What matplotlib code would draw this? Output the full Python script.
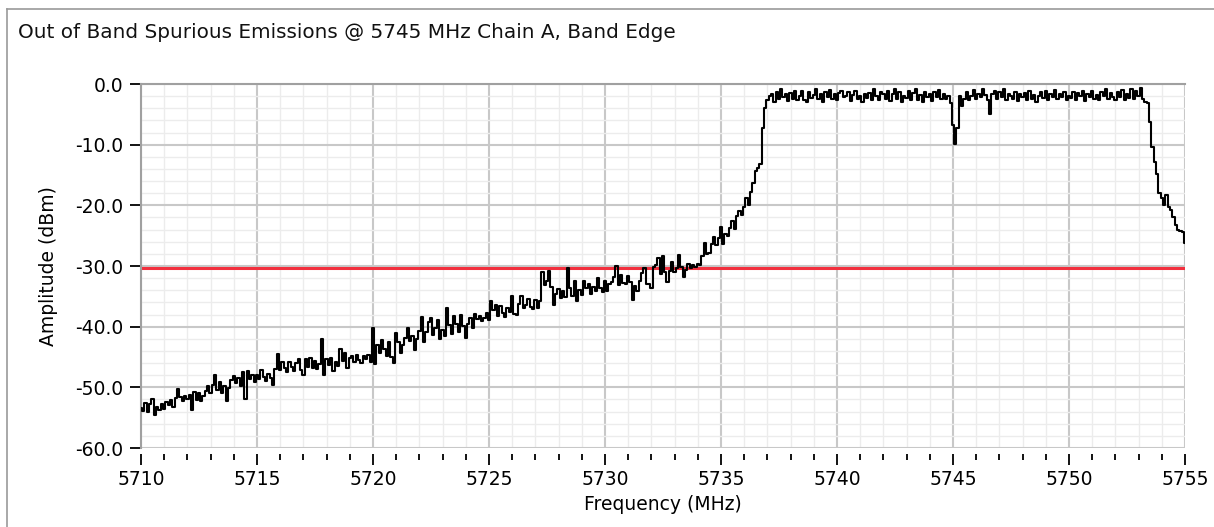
import numpy as np
import matplotlib.pyplot as plt
from matplotlib.ticker import MultipleLocator, FormatStrFormatter
from matplotlib.lines import Line2D

plt.rcParams['font.family'] = ['DejaVu Sans']

title = "Out of Band Spurious Emissions @ 5745 MHz Chain A, Band Edge"

# sweep: 5710 .. 5755 MHz, one reading every 0.1 MHz
f_start, f_stop, f_step = 5710.0, 5755.0, 0.1
limit_dbm = -30.3

# measured amplitude (dBm), one row per MHz
amp = [
    -53.4, -53.9, -52.6, -54.1, -52.8, -51.9, -54.6, -53.2, -53.8, -52.7,  # 5710
    -53.5, -52.4, -52.9, -52.1, -53.3, -51.8, -50.2, -51.6, -52.3, -51.4,  # 5711
    -52.0, -51.3, -53.8, -50.7, -52.1, -51.0, -52.3, -51.5, -50.6, -49.7,  # 5712
    -50.9, -49.6, -47.9, -50.4, -49.1, -51.0, -49.8, -52.2, -50.1, -48.8,  # 5713
    -48.1, -49.3, -48.5, -49.7, -47.4, -52.0, -47.3, -48.6, -47.9, -49.2,  # 5714
    -48.0, -48.7, -47.2, -48.3, -49.0, -47.8, -48.5, -49.6, -46.9, -44.5,  # 5715
    -47.2, -45.9, -46.8, -47.4, -45.8, -46.6, -47.3, -46.0, -45.4, -47.1,  # 5716
    -48.0, -45.3, -46.6, -45.2, -46.8, -45.6, -47.0, -46.2, -42.1, -47.9,  # 5717
    -45.3, -46.4, -45.2, -47.3, -45.8, -46.5, -43.7, -45.6, -44.3, -46.8,  # 5718
    -45.1, -44.8, -45.9, -44.7, -45.5, -46.0, -44.9, -45.3, -44.6, -45.8,  # 5719
    -40.2, -46.2, -43.1, -44.4, -42.2, -43.7, -44.8, -42.6, -45.0, -46.0,  # 5720
    -41.1, -42.6, -44.3, -43.0, -41.8, -40.3, -42.4, -41.5, -43.8, -42.1,  # 5721
    -40.7, -38.4, -42.5, -40.9, -39.2, -38.6, -41.3, -40.2, -38.9, -42.0,  # 5722
    -40.5, -41.6, -37.0, -39.8, -41.2, -38.3, -39.5, -40.8, -38.1, -39.9,  # 5723
    -41.8, -39.6, -38.5, -40.2, -37.9, -38.8, -38.2, -39.1, -38.6, -37.7,  # 5724
    -38.9, -35.7, -37.2, -36.4, -38.3, -36.6, -37.8, -38.4, -36.9, -37.5,  # 5725
    -35.0, -37.9, -38.1, -36.2, -34.9, -37.0, -36.4, -35.5, -36.8, -37.1,  # 5726
    -35.6, -36.9, -35.8, -31.0, -33.2, -32.4, -30.8, -33.5, -36.5, -34.6,  # 5727
    -33.8, -35.3, -34.1, -35.1, -30.3, -33.6, -34.9, -32.4, -35.8, -33.9,  # 5728
    -34.7, -32.5, -33.6, -32.9, -34.6, -33.4, -34.2, -32.0, -33.7, -34.3,  # 5729
    -32.4, -34.1, -33.0, -32.6, -31.8, -30.0, -33.2, -31.5, -32.8, -33.0,  # 5730
    -31.6, -32.7, -35.6, -33.3, -34.1, -32.5, -31.2, -30.4, -32.9, -33.0,  # 5731
    -33.7, -30.2, -29.9, -28.6, -31.4, -28.3, -31.0, -32.6, -30.8, -29.4,  # 5732
    -31.0, -30.3, -28.2, -30.1, -31.8, -30.6, -29.7, -30.4, -29.9, -30.2,  # 5733
    -29.6, -29.8, -28.4, -26.2, -28.0, -27.8, -26.4, -25.2, -26.6, -25.4,  # 5734
    -23.6, -26.3, -24.8, -25.1, -23.7, -22.5, -23.9, -21.7, -20.9, -21.6,  # 5735
    -20.3, -18.8, -19.9, -17.8, -16.3, -14.4, -13.8, -13.2, -7.2, -4.0,    # 5736
    -2.6, -2.0, -1.6, -2.9, -1.4, -2.5, -0.8, -2.2, -1.7, -2.8,            # 5737
    -1.5, -2.4, -1.2, -2.7, -1.9, -1.1, -2.6, -3.0, -1.4, -2.3,            # 5738
    -1.8, -0.9, -2.5, -1.6, -2.9, -1.3, -2.1, -1.0, -2.4, -1.7,            # 5739
    -2.6, -1.5, -1.1, -2.2, -2.0, -1.4, -2.8, -1.8, -1.2, -2.5,            # 5740
    -1.9, -2.9, -1.6, -2.3, -1.5, -2.6, -0.9, -2.0, -2.7, -1.3,            # 5741
    -1.7, -2.5, -1.1, -2.8, -1.6, -0.8, -2.4, -1.4, -3.0, -1.9,            # 5742
    -2.3, -1.2, -2.7, -1.5, -0.9, -2.6, -1.8, -2.9, -1.3, -2.2,            # 5743
    -1.6, -2.8, -1.4, -2.1, -1.0, -2.5, -1.7, -2.4, -2.0, -3.2,            # 5744
    -6.8, -9.9, -7.2, -2.0, -3.6, -2.4, -1.3, -2.7, -1.9, -1.0,            # 5745
    -2.5, -1.6, -2.2, -0.9, -1.8, -2.6, -4.9, -1.7, -1.2, -2.4,            # 5746
    -1.4, -2.1, -0.9, -2.7, -1.6, -1.9, -2.5, -1.3, -2.8, -1.7,            # 5747
    -2.2, -1.5, -2.6, -1.1, -2.4, -1.8, -2.9, -2.0, -1.4, -2.3,            # 5748
    -1.2, -2.7, -1.6, -2.2, -1.0, -2.5, -1.7, -2.1, -1.4, -2.6,            # 5749
    -1.9, -2.3, -1.3, -2.6, -1.5, -2.0, -1.2, -2.8, -1.6, -2.2,            # 5750
    -1.1, -2.4, -1.8, -2.7, -1.3, -2.0, -0.9, -2.5, -1.5, -2.1,            # 5751
    -2.6, -1.4, -2.2, -1.0, -2.7, -1.6, -2.3, -0.8, -2.5, -1.2,            # 5752
    -2.0, -0.7, -2.4, -2.9, -3.1, -6.2, -10.4, -12.8, -14.8, -18.0,        # 5753
    -18.8, -19.9, -18.3, -20.2, -20.8, -22.0, -23.2, -24.0, -24.2, -24.4,  # 5754
    -26.2,                                                                 # 5755
]

freq = f_start + f_step * np.arange(len(amp))

W, H = 1214, 527
fig = plt.figure(figsize=(W / 100, H / 100), dpi=100)
fig.patch.set_facecolor('white')

# panel frame (left and top edges)
frame = '#9a9a9a'
fig.add_artist(Line2D([7 / W, 7 / W], [0, 1 - 9 / H], color=frame, lw=1.2,
                      transform=fig.transFigure))
fig.add_artist(Line2D([7 / W, 1], [1 - 9 / H, 1 - 9 / H], color=frame, lw=1.2,
                      transform=fig.transFigure))
fig.text(18 / W, 1 - 32 / H, title, fontsize=14.4, va='center', ha='left',
         color='#111111')

ax = fig.add_axes([141 / W, (H - 448) / H, (1185 - 141) / W, (448 - 84) / H])

ax.plot(freq, amp, color='black', lw=1.5, drawstyle='steps-mid', zorder=3)
ax.axhline(limit_dbm, color='#f2303e', lw=2.2, zorder=2)

ax.set_xlim(f_start, f_stop)
ax.set_ylim(-60, 0)

ax.xaxis.set_major_locator(MultipleLocator(5))
ax.xaxis.set_minor_locator(MultipleLocator(1))
ax.yaxis.set_major_locator(MultipleLocator(10))
ax.yaxis.set_minor_locator(MultipleLocator(2))
ax.yaxis.set_major_formatter(FormatStrFormatter('%.1f'))

ax.grid(which='major', color='#c8c8c8', lw=1.5, zorder=1)
ax.grid(which='minor', color='#ececec', lw=1.0, zorder=0)
ax.set_axisbelow(True)

for side in ('right', 'bottom'):
    ax.spines[side].set_visible(False)
ax.spines['bottom'].set_position(('outward', 4))
for side in ('left', 'top'):
    ax.spines[side].set_color('#a0a0a0')
    ax.spines[side].set_linewidth(1.5)

ax.tick_params(axis='x', which='major', direction='out', length=8, width=1.3,
               color='black', labelsize=13.5, pad=4)
ax.tick_params(axis='x', which='minor', direction='out', length=4, width=1.3,
               color='black')
ax.tick_params(axis='y', which='major', direction='out', length=8, width=1.3,
               color='black', labelsize=13.5, pad=5)
ax.tick_params(axis='y', which='minor', length=0)
ax.tick_params(top=False)

ax.set_xlabel("Frequency (MHz)", fontsize=13.5, labelpad=4)
ax.set_ylabel("Amplitude (dBm)", fontsize=13.5, labelpad=12)

fig.savefig('out.png', dpi=100)
